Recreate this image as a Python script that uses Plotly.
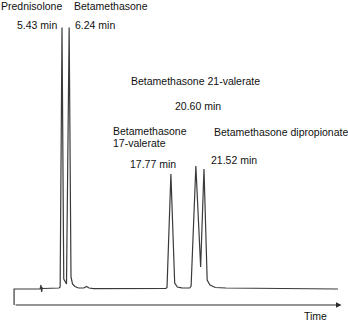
import plotly.graph_objects as go

# Peak identities and retention times (min)
compounds = [
    "Prednisolone",
    "Betamethasone",
    "Betamethasone 17-valerate",
    "Betamethasone 21-valerate",
    "Betamethasone dipropionate",
]
retention_min = [5.43, 6.24, 17.77, 20.60, 21.52]
apex_signal = [261.5, 261.5, 115, 123, 120]

# Detector trace between the apexes (time in min, response in arbitrary units)
profile_time = [0, 0, 2.95, 3.05, 3.12, 3.2, 3.3, 5.1, 5.22, 5.63, 5.94, 6.45,
                6.62, 6.9, 7.3, 7.9, 8.2, 8.5, 9.0, 17.2, 17.33, 18.2, 18.5,
                19.0, 19.9, 20.06, 21.14, 21.88, 22.2, 22.8, 24.0, 36.7]
profile_signal = [-16, 0, 0, 4, -3, 1, 0.5, 1, 2, 10, 5, 12,
                  5, 2.5, 1, 1, 2.5, 1, 0.3, 0.5, 1.5, 6, 2,
                  1.2, 1, 3, 22, 9, 4, 1.5, 1, 0]

axis_level = -16
axis_end = 37.1

points = sorted(
    list(zip(profile_time, profile_signal)) + list(zip(retention_min, apex_signal)),
    key=lambda p: p[0],
)
t = [p[0] for p in points]
s = [p[1] for p in points]

W, H = 348, 322
FONT = "Liberation Sans, Arial, Helvetica, sans-serif"


def at(x, y):
    return x / W, 1 - y / H


fig = go.Figure()
fig.add_trace(go.Scatter(x=t, y=s, mode="lines",
                         line=dict(color="#3a3a3a", width=1.2),
                         hoverinfo="skip", showlegend=False))

# Time axis drawn as an arrow along the bottom
fig.add_annotation(x=axis_end, y=axis_level, ax=0, ay=axis_level,
                   xref="x", yref="y", axref="x", ayref="y",
                   showarrow=True, arrowhead=2, arrowsize=1, arrowwidth=1.1,
                   arrowcolor="#2a2a2a", text="")


def label(text, x, y, anchor="left", size=10.5):
    xp, yp = at(x, y)
    fig.add_annotation(x=xp, y=yp, xref="paper", yref="paper", text=text,
                       showarrow=False, xanchor=anchor, yanchor="middle",
                       borderpad=0, font=dict(family=FONT, size=size, color="#111"))


def rt(i):
    return f"{retention_min[i]:.2f} min"


label(compounds[0], 0, 6)
label(compounds[1], 73, 6)
label(rt(0), 58, 25, anchor="right")
label(rt(1), 74, 25)
label(compounds[3], 130, 80.5)
label(rt(3), 174, 105.5)
name17 = compounds[2].split(" ")
label(name17[0], 111.5, 131)
label(name17[1], 111.5, 143)
label(rt(2), 128.5, 163.5)
label(compounds[4], 213, 131.5)
label(rt(4), 210, 159.5)
label("Time", 303, 315.5)

# Map 0 min to x = 14 px at 8.825 px/min; response 0 at y = 289 px
x0, ppm = 14.08, 8.825
fig.update_xaxes(range=[-x0 / ppm, (W - x0) / ppm], visible=False, fixedrange=True)
fig.update_yaxes(range=[289 - H, 289], visible=False, fixedrange=True)
fig.update_layout(width=W, height=H, margin=dict(l=0, r=0, t=0, b=0),
                  plot_bgcolor="white", paper_bgcolor="white")

fig.write_html("out.html", config={"displayModeBar": False})
